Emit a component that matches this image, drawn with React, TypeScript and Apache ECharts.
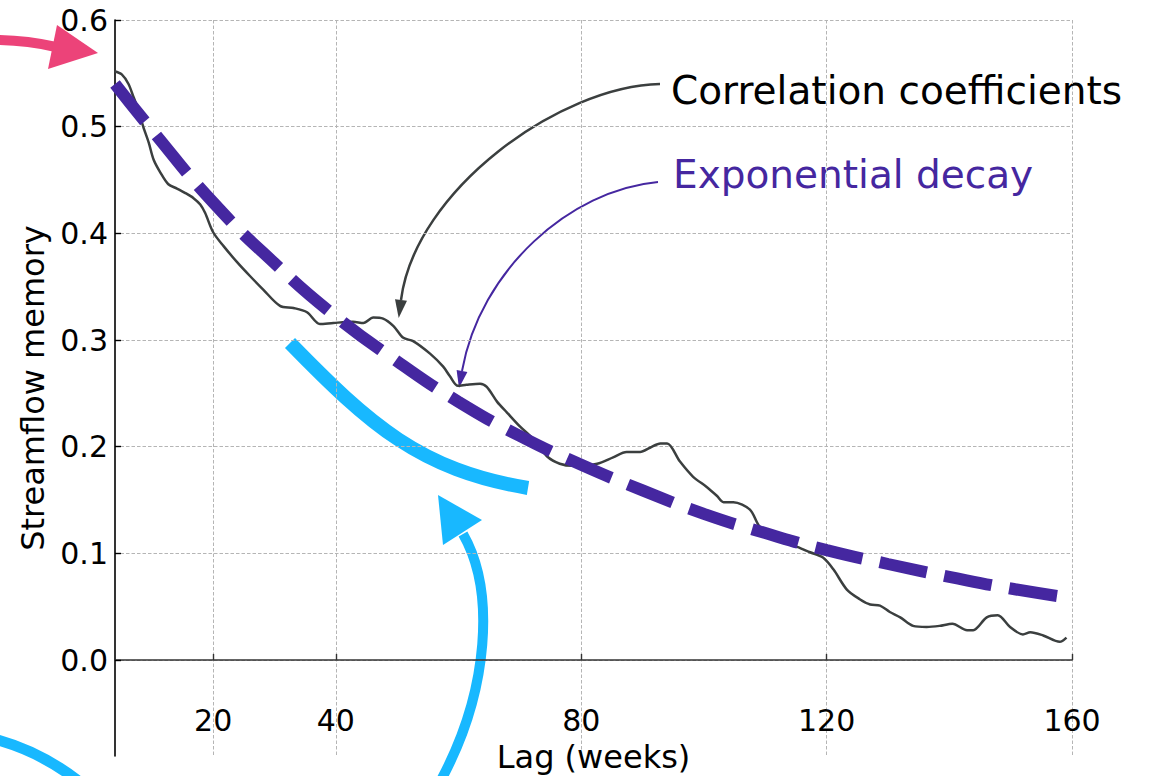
import React, { useEffect, useRef } from "react";
import * as echarts from "echarts";

// Lagged correlation of weekly streamflow (lag in weeks, coefficient)
const lagWeeks = [
  3.9, 5.1, 6.2, 7.0, 7.8, 8.6, 9.5, 10.3, 11.4, 12.7,
  14.1, 15.4, 16.8, 17.9, 18.7, 20.0, 21.7, 23.9, 26.0, 28.2,
  30.9, 33.1, 35.3, 37.4, 39.6, 42.8, 44.5, 46.1, 47.7, 49.4,
  51.0, 52.6, 55.4, 57.5, 58.6, 59.9, 61.3, 63.5, 64.6, 66.3,
  67.9, 70.0, 72.2, 74.4, 76.5, 78.7, 82.6, 85.2, 87.4, 89.6,
  91.2, 92.9, 94.0, 96.1, 98.2, 100.5, 102.1, 103.2, 104.8, 107.5,
  109.1, 111.9, 115.2, 117.3, 119.4, 121.1, 123.3, 125.4, 127.1, 128.7,
  130.3, 132.0, 134.1, 136.3, 138.4, 140.5, 142.9, 143.9, 146.1, 147.9,
  149.9, 152.0, 153.2, 155.3, 158.0, 159.1,
];
const correlation = [
  0.552, 0.549, 0.54, 0.528, 0.516, 0.5, 0.485, 0.469, 0.457, 0.446,
  0.442, 0.438, 0.433, 0.427, 0.419, 0.401, 0.388, 0.373, 0.36, 0.347,
  0.332, 0.33, 0.326, 0.315, 0.316, 0.317, 0.316, 0.321, 0.32, 0.313,
  0.302, 0.299, 0.287, 0.275, 0.266, 0.257, 0.258, 0.259, 0.256, 0.242,
  0.232, 0.219, 0.207, 0.191, 0.184, 0.182, 0.184, 0.19, 0.195, 0.195,
  0.199, 0.203, 0.203, 0.186, 0.172, 0.162, 0.154, 0.148, 0.148, 0.141,
  0.125, 0.113, 0.106, 0.101, 0.096, 0.085, 0.066, 0.057, 0.052, 0.051,
  0.045, 0.04, 0.032, 0.031, 0.032, 0.034, 0.028, 0.028, 0.04, 0.042,
  0.031, 0.024, 0.026, 0.023, 0.017, 0.021,
];

// Fitted exponential decay
const decayLag = [4, 10, 20, 30, 40, 50, 60, 70, 80, 90, 100, 110, 120, 130, 140, 150, 160];
const decayValue = [
  0.54, 0.497, 0.429, 0.372, 0.322, 0.28, 0.242, 0.21, 0.183, 0.159,
  0.137, 0.119, 0.103, 0.09, 0.078, 0.067, 0.058,
];

const xTickValues = [20, 40, 80, 120, 160];
const yTickValues = [0, 0.1, 0.2, 0.3, 0.4, 0.5, 0.6];

const FONT = "DejaVu Sans";
const LINE_GRAY = "#3b3f3f";
const PURPLE = "#4527a0";
const PINK = "#ec4379";
const CYAN = "#18b8ff";

const gridDash = { color: "#b5b5b5", width: 1, type: [3.5, 2] as number[] };

export default function App() {
  const ref = useRef<HTMLDivElement>(null);

  useEffect(() => {
    if (!ref.current) return;
    const chart = echarts.init(ref.current, undefined, { renderer: "svg" });

    chart.setOption({
      animation: false,
      backgroundColor: "#ffffff",
      grid: {
        left: 115,
        right: 78,
        top: 20,
        bottom: 20,
        containLabel: false,
        outerBoundsMode: "none",
      },
      xAxis: {
        type: "value",
        min: 4,
        max: 160,
        name: "Lag (weeks)",
        nameLocation: "middle",
        nameGap: -15,
        nameTextStyle: { fontFamily: FONT, fontSize: 32, color: "#000" },
        axisLine: { onZero: true, lineStyle: { color: "#333333", width: 1.6 } },
        axisTick: {
          show: true,
          inside: true,
          length: 6,
          customValues: xTickValues,
          lineStyle: { color: "#333333", width: 1.4 },
        },
        axisLabel: {
          customValues: xTickValues,
          margin: -51,
          fontFamily: FONT,
          fontSize: 30,
          color: "#000",
        },
        splitLine: { show: true, lineStyle: gridDash },
      },
      yAxis: {
        type: "value",
        min: -0.09,
        max: 0.6,
        name: "Streamflow memory",
        nameLocation: "middle",
        nameGap: 58,
        nameTextStyle: { fontFamily: FONT, fontSize: 32, color: "#000" },
        axisLine: { show: true, onZero: false, lineStyle: { color: "#000", width: 1.6 } },
        axisTick: {
          show: true,
          inside: true,
          length: 6,
          customValues: yTickValues,
          lineStyle: { color: "#000", width: 1.4 },
        },
        axisLabel: {
          customValues: yTickValues,
          margin: 7,
          fontFamily: FONT,
          fontSize: 30,
          color: "#000",
          formatter: (v: number) => v.toFixed(1),
        },
        splitLine: { show: true, lineStyle: gridDash },
      },
      series: [
        {
          type: "line",
          name: "Correlation coefficients",
          data: lagWeeks.map((x, i) => [x, correlation[i]]),
          symbol: "none",
          smooth: 0.3,
          lineStyle: { color: LINE_GRAY, width: 2.5 },
          z: 3,
        },
        {
          type: "line",
          name: "Exponential decay",
          data: decayLag.map((x, i) => [x, decayValue[i]]),
          symbol: "none",
          smooth: true,
          lineStyle: { color: PURPLE, width: 12, type: [48, 18], cap: "butt" },
          z: 4,
        },
      ],
      graphic: [
        // pink pointer at the top of the value axis
        {
          type: "bezierCurve",
          shape: { x1: -6, y1: 40, cpx1: 25, cpy1: 40, x2: 56, y2: 47 },
          style: { stroke: PINK, lineWidth: 10, fill: "none" },
        },
        {
          type: "polygon",
          shape: { points: [[57, 25], [98, 53], [48, 69]] },
          style: { fill: PINK },
        },
        // cyan stroke under the curves
        {
          type: "bezierCurve",
          shape: { x1: 290, y1: 343, cpx1: 370, cpy1: 425, cpx2: 420, cpy2: 470, x2: 528, y2: 488 },
          style: { stroke: CYAN, lineWidth: 14, fill: "none", lineCap: "butt" },
        },
        // cyan arrow rising from the bottom edge
        {
          type: "bezierCurve",
          shape: { x1: 440, y1: 782, cpx1: 490, cpy1: 690, cpx2: 495, cpy2: 590, x2: 463, y2: 534 },
          style: { stroke: CYAN, lineWidth: 10, fill: "none" },
        },
        {
          type: "polygon",
          shape: { points: [[438, 495], [482, 520], [443, 545]] },
          style: { fill: CYAN },
        },
        // cyan arc in the lower-left corner
        {
          type: "bezierCurve",
          shape: { x1: -10, y1: 738, cpx1: 40, cpy1: 750, x2: 82, y2: 784 },
          style: { stroke: CYAN, lineWidth: 11, fill: "none" },
        },
        // label leader: correlation coefficients
        {
          type: "bezierCurve",
          shape: { x1: 660, y1: 84, cpx1: 560, cpy1: 86, cpx2: 415, cpy2: 190, x2: 401, y2: 300 },
          style: { stroke: LINE_GRAY, lineWidth: 2.5, fill: "none" },
        },
        {
          type: "polygon",
          shape: { points: [[398.7, 318], [395, 299.2], [407, 300.8]] },
          style: { fill: LINE_GRAY },
        },
        // label leader: exponential decay
        {
          type: "bezierCurve",
          shape: { x1: 658, y1: 182, cpx1: 570, cpy1: 190, cpx2: 480, cpy2: 270, x2: 462, y2: 371 },
          style: { stroke: PURPLE, lineWidth: 2, fill: "none" },
        },
        {
          type: "polygon",
          shape: { points: [[459, 388], [456.6, 370], [467.4, 372]] },
          style: { fill: PURPLE },
        },
        {
          type: "text",
          x: 671,
          y: 90,
          style: {
            text: "Correlation coefficients",
            fontFamily: FONT,
            fontSize: 39,
            fill: "#000",
            verticalAlign: "middle",
          },
        },
        {
          type: "text",
          x: 673,
          y: 174,
          style: {
            text: "Exponential decay",
            fontFamily: FONT,
            fontSize: 39,
            fill: PURPLE,
            verticalAlign: "middle",
          },
        },
      ],
    });

    return () => chart.dispose();
  }, []);

  return (
    <div
      ref={ref}
      style={{ position: "absolute", left: 0, top: 0, width: 1150, height: 776, background: "#fff" }}
    />
  );
}
